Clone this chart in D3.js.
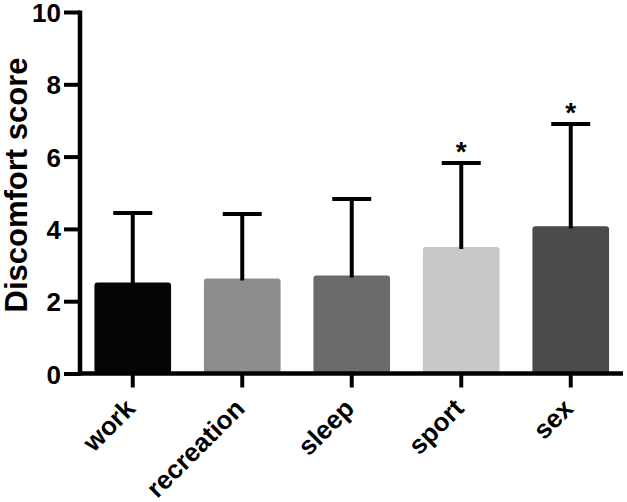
<!DOCTYPE html>
<html>
<head>
<meta charset="utf-8">
<script src="https://cdn.jsdelivr.net/npm/d3@7"></script>
<style>
  body { margin: 0; background: #fff; }
  text { font-family: "Liberation Sans", Arial, sans-serif; font-weight: bold; fill: #000; }
</style>
</head>
<body>
<svg id="chart" width="627" height="502"></svg>
<script>
// Data
const categories = ['work', 'recreation', 'sleep', 'sport', 'sex'];
const means = [2.52, 2.63, 2.71, 3.50, 4.07];
const upperErrors = [4.44, 4.41, 4.83, 5.82, 6.90];
const significant = [false, false, false, true, true];
const yTicks = [0, 2, 4, 6, 8, 10];
const barColors = ['#050505', '#8d8d8d', '#6b6b6b', '#c8c8c8', '#4b4b4b'];

const svg = d3.select('#chart');

// Scales
const x = d3.scaleBand()
  .domain(categories)
  .range([78, 625.5])
  .paddingInner(0.3)
  .paddingOuter(0.15);

const y = d3.scaleLinear()
  .domain([0, 10])
  .range([373.5, 12]);

const axisX = 80;
const axisStroke = 4.5;

// Bars
svg.append('g')
  .selectAll('rect')
  .data(categories)
  .enter()
  .append('rect')
  .attr('x', d => x(d))
  .attr('y', (d, i) => y(means[i]))
  .attr('width', x.bandwidth())
  .attr('height', (d, i) => y(0) - y(means[i]))
  .attr('rx', 3)
  .attr('fill', (d, i) => barColors[i]);

// Error bars (upper only)
const capWidth = 39;
const err = svg.append('g')
  .attr('stroke', '#000')
  .attr('stroke-width', 4);

categories.forEach((d, i) => {
  const cx = x(d) + x.bandwidth() / 2;
  err.append('line')
    .attr('x1', cx).attr('x2', cx)
    .attr('y1', y(means[i]) + 2).attr('y2', y(upperErrors[i]));
  err.append('line')
    .attr('x1', cx - capWidth / 2).attr('x2', cx + capWidth / 2)
    .attr('y1', y(upperErrors[i])).attr('y2', y(upperErrors[i]));
});

// Significance markers
svg.append('g')
  .selectAll('text')
  .data(categories.filter((d, i) => significant[i]))
  .enter()
  .append('text')
  .attr('x', d => x(d) + x.bandwidth() / 2)
  .attr('y', d => y(upperErrors[categories.indexOf(d)]) - 2)
  .attr('text-anchor', 'middle')
  .attr('font-size', 28)
  .text('*');

// Y axis
const yAxis = svg.append('g')
  .attr('transform', `translate(${axisX},0)`)
  .call(d3.axisLeft(y).tickValues(yTicks).tickSize(16).tickPadding(3));
yAxis.select('.domain').remove();
yAxis.selectAll('.tick line').attr('stroke', '#000').attr('stroke-width', 4);
yAxis.selectAll('.tick text')
  .attr('font-size', 26)
  .attr('dy', '0.37em')
  .style('font-family', '"Liberation Sans", Arial, sans-serif')
  .style('font-weight', 'bold');
yAxis.append('line')
  .attr('x1', 0).attr('x2', 0)
  .attr('y1', y(10) - 1.5).attr('y2', y(0) + 2)
  .attr('stroke', '#000')
  .attr('stroke-width', axisStroke);

// X axis
const xAxis = svg.append('g')
  .attr('transform', `translate(0,${y(0)})`)
  .call(d3.axisBottom(x).tickSize(14).tickFormat(''));
xAxis.select('.domain').remove();
xAxis.selectAll('.tick line').attr('stroke', '#000').attr('stroke-width', 4);
xAxis.append('line')
  .attr('x1', axisX - 2).attr('x2', 623)
  .attr('y1', 0).attr('y2', 0)
  .attr('stroke', '#000')
  .attr('stroke-width', axisStroke);

// Rotated category labels
svg.append('g')
  .selectAll('text')
  .data(categories)
  .enter()
  .append('text')
  .attr('transform', d => `translate(${x(d) + x.bandwidth() / 2 + 4},410) rotate(-45)`)
  .attr('text-anchor', 'end')
  .attr('font-size', 26)
  .text(d => d);

// Y axis title
svg.append('text')
  .attr('transform', 'translate(27,185) rotate(-90)')
  .attr('text-anchor', 'middle')
  .attr('font-size', 31)
  .text('Discomfort score');
</script>
</body>
</html>
